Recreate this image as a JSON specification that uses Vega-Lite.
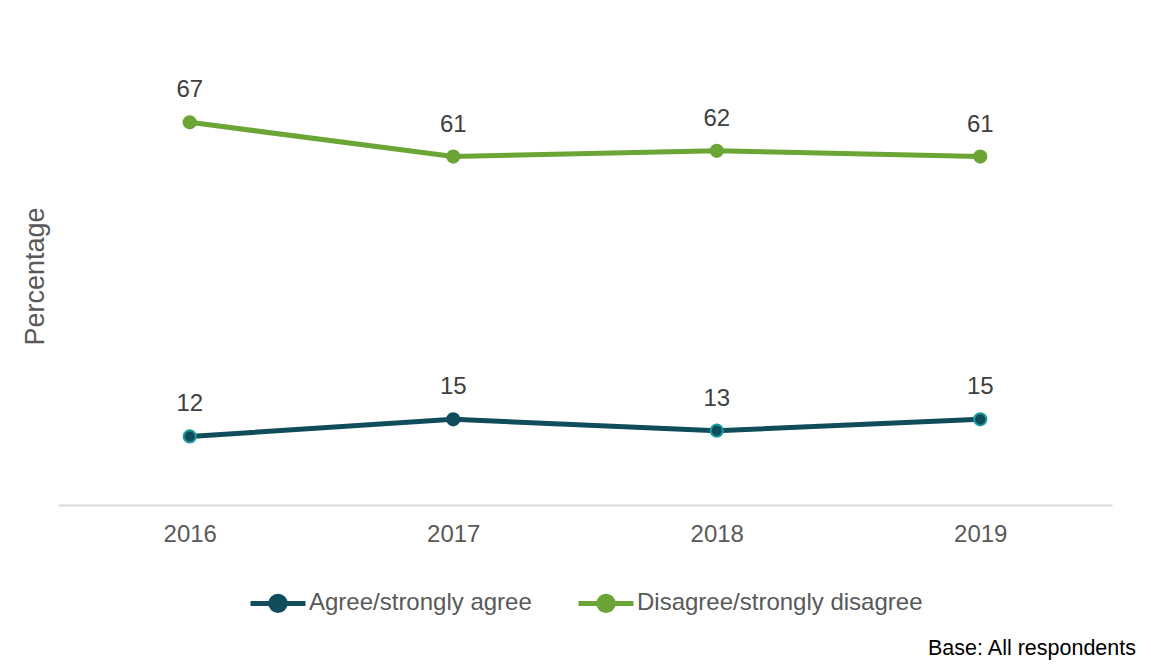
{
  "$schema": "https://vega.github.io/schema/vega-lite/v6.json",
  "width": 1054,
  "height": 457,
  "autosize": {"type": "none"},
  "padding": {"left": 58, "top": 48, "right": 39, "bottom": 167},
  "background": "white",
  "config": {
    "view": {"stroke": null},
    "font": "Liberation Sans",
    "title": {"font": "Liberation Sans"}
  },
  "title": {
    "text": "Base: All respondents",
    "orient": "bottom",
    "anchor": "end",
    "frame": "group",
    "fontSize": 21.5,
    "fontWeight": "normal",
    "color": "#000000",
    "dx": 24,
    "offset": 17
  },
  "data": {
    "values": [
      {"year": "2016", "series": "Agree/strongly agree", "value": 12},
      {"year": "2017", "series": "Agree/strongly agree", "value": 15},
      {"year": "2018", "series": "Agree/strongly agree", "value": 13},
      {"year": "2019", "series": "Agree/strongly agree", "value": 15},
      {"year": "2016", "series": "Disagree/strongly disagree", "value": 67},
      {"year": "2017", "series": "Disagree/strongly disagree", "value": 61},
      {"year": "2018", "series": "Disagree/strongly disagree", "value": 62},
      {"year": "2019", "series": "Disagree/strongly disagree", "value": 61}
    ]
  },
  "encoding": {
    "x": {
      "field": "year",
      "type": "ordinal",
      "scale": {"type": "point", "padding": 0.5},
      "axis": {
        "title": null,
        "labelAngle": 0,
        "labelFontSize": 24,
        "labelColor": "#595959",
        "labelPadding": 17,
        "ticks": false,
        "domainColor": "#d9d9d9",
        "domainWidth": 2,
        "grid": false
      }
    },
    "y": {
      "field": "value",
      "type": "quantitative",
      "scale": {"domain": [0, 80]},
      "axis": {
        "title": "Percentage",
        "titleFontSize": 27,
        "titleFontWeight": "normal",
        "titleColor": "#595959",
        "titleAngle": -90,
        "titleX": -15,
        "titleY": 228,
        "titleAlign": "center",
        "titleBaseline": "alphabetic",
        "labels": false,
        "ticks": false,
        "domain": false,
        "grid": false
      }
    },
    "color": {
      "field": "series",
      "type": "nominal",
      "scale": {
        "domain": ["Agree/strongly agree", "Disagree/strongly disagree"],
        "range": ["#0f4c5c", "#6aa535"]
      },
      "legend": {
        "title": null,
        "orient": "none",
        "direction": "horizontal",
        "legendX": 190,
        "legendY": 525,
        "symbolType": "M-1,0H-0.26A0.26,0.26 0 1,1 0.26,0A0.26,0.26 0 1,1 -0.26,0M0.26,0H1",
        "symbolSize": 3025,
        "symbolStrokeWidth": 5,
        "labelFontSize": 24,
        "labelColor": "#595959",
        "labelOffset": 1,
        "labelLimit": 0,
        "columnPadding": 36
      }
    }
  },
  "layer": [
    {
      "mark": {"type": "line", "strokeWidth": 5}
    },
    {
      "mark": {"type": "point", "filled": true, "size": 150, "opacity": 1, "strokeWidth": 2},
      "encoding": {
        "stroke": {
          "condition": {"test": "datum.series === 'Agree/strongly agree' && datum.year !== '2017'", "value": "#1a9c9c"},
          "field": "series",
          "type": "nominal",
          "legend": null,
          "scale": {
            "domain": ["Agree/strongly agree", "Disagree/strongly disagree"],
            "range": ["#0f4c5c", "#6aa535"]
          }
        }
      }
    },
    {
      "mark": {"type": "text", "dy": -32, "fontSize": 24, "color": "#404040", "baseline": "middle"},
      "encoding": {
        "text": {"field": "value", "type": "quantitative"},
        "color": {"value": "#404040"}
      }
    }
  ]
}
